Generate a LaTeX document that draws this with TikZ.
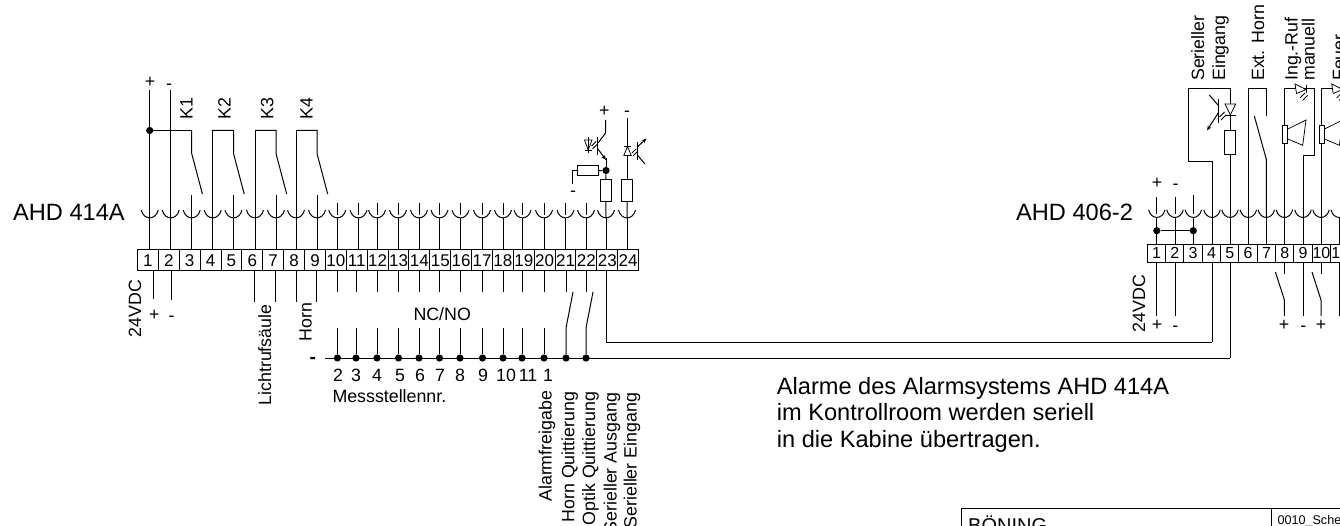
\documentclass[tikz,border=0pt]{standalone}
\usepackage{fontspec}
\setmainfont{Liberation Sans}
\usetikzlibrary{arrows.meta,calc}
\tikzset{
  w/.style={line width=1pt,black},
  thin wire/.style={line width=0.75pt,black},
  cell/.style={draw,line width=1pt,rectangle,inner sep=0pt,minimum width=20.88pt,minimum height=21pt,font=\fontsize{17pt}{17pt}\selectfont},
  rcell/.style={draw,line width=1pt,rectangle,inner sep=0pt,minimum width=18.33pt,minimum height=18.7pt,font=\fontsize{16pt}{16pt}\selectfont},
  lab/.style={inner sep=0pt,anchor=base west,font=\fontsize{17.8pt}{17.8pt}\selectfont},
  vlab/.style={inner sep=0pt,anchor=base west,rotate=90,font=\fontsize{17.8pt}{17.8pt}\selectfont},
  vlabe/.style={inner sep=0pt,anchor=base east,rotate=90,font=\fontsize{17.8pt}{17.8pt}\selectfont},
  big/.style={inner sep=0pt,anchor=base west,font=\fontsize{23.6pt}{23.6pt}\selectfont},
  sign/.style={inner sep=0pt,anchor=center,font=\fontsize{17.8pt}{17.8pt}\selectfont},
  minus/.style={sign,yshift=-2.5pt},
  dot/.style={circle,fill=black,inner sep=0pt,minimum size=7.2pt},
  res/.style={draw,line width=1pt,rectangle,inner sep=0pt,fill=white},
  cup/.pic={\draw[w] (-8.5,0) .. controls (-6,10.5) and (6,10.5) .. (8.5,0);},
  tip/.style={-{Stealth[length=5pt,width=4pt]}}
}
\begin{document}
\begin{tikzpicture}[x=1pt,y=-1pt]
\useasboundingbox (0,0) rectangle (1340,526);
\clip (0,0) rectangle (1340,526);
% ---------- AHD 414A terminal strip
\foreach \x [count=\i] in {149.7,170.7,191.7,212.7,233.5,255,276,296,317,337.3,358.5,377,398,419,439.5,460.5,482,503,522.5,544,565.5,586,606,627}{
  \node[cell] (L\i) at ({137.5+20.88*(\i-0.5)},260.5) {\i};
  \coordinate (Lc\i) at (\x,218);
  \pic at (\x,210) {cup};
  \draw[w] (Lc\i) -- (Lc\i |- L\i.north);
}
% wires above cups, free ends
\foreach \i/\t in {1/90,2/90,4/130.5,6/130.5,8/130.5}{
  \coordinate (Lt\i) at (Lc\i |- 0,\t);
  \draw[w] (Lt\i) -- (Lc\i);
}
\foreach \i in {3,5,7,9}{\draw[w] (Lc\i |- 0,195) -- ($(Lc\i)+(0,-1)$);}
\foreach \i in {10,...,22}{\draw[w] (Lc\i |- 0,202.7) -- ($(Lc\i)+(0,-3)$);}
% relay contacts
\node[dot] (feed) at (Lc1 |- 0,130.5) {};
\foreach \a/\b/\n in {3/3/1,4/5/2,6/7/3,8/9/4}{
  \coordinate (s\n) at (Lc\b |- 0,153.5);
  \coordinate (e\n) at ($(s\n)+(10.7,40.5)$);
  \draw[w] (Lc\a |- 0,130.5) -- (Lc\b |- 0,130.5) -- (s\n) -- (e\n);
}
\draw[w] (feed.center) -- (Lc3 |- feed);
% labels top left
\node[sign] (pl) at (150,82.5) {+};
\node[minus] (ml) at (169,84) {-};
\node[vlab] (k1) at (192.7,119.3) {K1};
\node[vlab] (k2) at (230.7,119.3) {K2};
\node[vlab] (k3) at (273.3,119.3) {K3};
\node[vlab] (k4) at (312.7,119.3) {K4};
\node[big] (ahdl) at (13,221) {AHD 414A};
% below strip left
\coordinate (b1) at (153.4,299.5);\coordinate (b2) at (171,300);
\draw[w] (b1 |- L1.south) -- (b1);
\draw[w] (b2 |- L2.south) -- (b2);
\node[sign] (pb1) at (154.3,315) {+};
\node[minus] (mb2) at (171.5,316) {-};
\node[vlab] (v24l) at (141,337.3) {24VDC};
\foreach \i/\x in {6/254,7/275,8/296,9/316.5}{
  \draw[w] (\x,271) -- (\x,302.5);
}
\node[vlab] (licht) at (271,405.7) {Lichtrufsäule};
\node[vlab] (hornl) at (311.7,341.7) {Horn};
\node[lab] (ncno) at (413.3,320) {NC/NO};
% bus & contacts
\coordinate (busL) at (325,358);
\coordinate (busR) at (1230,358);
\coordinate (serL) at (606,342);
\coordinate (serR) at (1212,342);
\draw[w] (busL) -- (busR);
\foreach \i/\x in {10/337.4,11/356,12/377,13/398.5,14/419,15/439.5,16/460,17/482.5,18/503,19/522,20/544}{
  \draw[w] (\x,271) -- (\x,292);
  \node[dot] (d\i) at (\x,358) {};
  \draw[w] (\x,328) -- (d\i);
}
\foreach \i/\x in {21/566,22/586}{
  \draw[w] (\x,271) -- (\x,292);
  \node[dot] (d\i) at (\x,358) {};
  \draw[w] (d\i) -- (\x,328) -- ($(\x,292)+(7,0)$);
}
\node[inner sep=0pt,yshift=-2.5pt,font=\fontsize{19pt}{19pt}\bfseries\selectfont] (busm) at (312.7,358) {-};
\foreach \t/\x in {2/338,3/356,4/377,5/400,6/420,7/440,8/460,9/483,10/506,11/528,1/548}{
  \node[inner sep=0pt,anchor=base,font=\fontsize{17.8pt}{17.8pt}\selectfont] (n\t) at (\x,381.7) {\t};
}
\node[lab] (mess) at (332.3,402.7) {Messstellennr.};
\node[vlabe] (alf) at (551.7,390.7) {Alarmfreigabe};
\node[vlabe] (hq) at (574.3,391.7) {Horn Quittierung};
\node[vlabe] (oq) at (595,391.7) {Optik Quittierung};
\node[vlabe] (sa) at (616.7,392.7) {Serieller Ausgang};
\node[vlabe] (se) at (636.7,392.7) {Serieller Eingang};
% serial lines
\draw[w] (serL |- L23.south) -- (serL) -- (serR);
% optocoupler out (terminal 23)
\node[dot] (jn) at (606,170.5) {};
\node[res,minimum width=10.6pt,minimum height=21.7pt] (r23) at (605.8,190.2) {};
\node[res,minimum width=21.3pt,minimum height=10.7pt] (rh) at (587.7,170.6) {};
\node[res,minimum width=11pt,minimum height=21.7pt] (r24) at (627.2,190.2) {};
\draw[w] (jn) -- (r23);
\draw[w] (r23) -- (Lc23);
\draw[w] (rh) -- (jn);
\coordinate (mend) at (572.6,184);
\draw[w] (rh.west) -- (mend |- rh.west) -- (mend);
\node[minus] (mn) at (573,191) {-};
\node[sign] (pn) at (604.3,111.5) {+};
\node[minus] (mo) at (627,111) {-};
\coordinate (ptop) at (605.6,120);
\draw[w] (ptop) -- (605.6,133) -- (598,143);
\draw[w] (597.7,136.7) -- (597.7,155);
\draw[w,tip] (598,149) -- (606,160);
\draw[w] (606,158) -- (jn);
% LED left
\draw[thin wire] (584.5,140) -- (592,140) -- (588.2,150) -- cycle;
\draw[thin wire] (584.5,150.5) -- (592,150.5) (588.2,137) -- (588.2,153);
\draw[thin wire] (591.5,146) -- (596,141.5) (592.5,149) -- (597,144.5);
% right sensor
\coordinate (mtop) at (627.2,118.3);
\draw[w] (mtop) -- (r24);
\draw[w] (r24) -- (Lc24);
\draw[thin wire,fill=white] (623.8,155.5) -- (631.3,155.5) -- (627.5,146.5) -- cycle;
\draw[thin wire] (623.8,146.3) -- (631.3,146.3);
\draw[thin wire] (632,153) -- (636,149) (633,156) -- (637,152);
\draw[w] (637.3,141.7) -- (637.3,160);
\draw[w,tip] (637.3,147) -- (646.5,138.5);
\draw[w] (637.3,155) -- (645,164);
% ---------- AHD 406-2 strip
\foreach \x [count=\i] in {1156.8,1175,1193.3,1212,1230,1248.3,1266.3,1284.4,1303,1321,1339.2}{
  \node[rcell] (R\i) at ({1147.3+18.33*(\i-0.5)},253.4) {\i};
  \coordinate (Rc\i) at (\x,217);
  \pic[scale=0.97] at (\x,209.8) {cup};
  \draw[w] (Rc\i) -- (Rc\i |- R\i.north);
}
\foreach \i in {1,2}{\draw[w] (Rc\i |- 0,197) -- ($(Rc\i)+(0,-3)$);}
\draw[w] (Rc3 |- 0,195) -- ($(Rc3)+(0,-3)$);
\node[sign] (pr) at (1157,183.5) {+};
\node[minus] (mr) at (1175.5,184) {-};
\node[big] (ahdr) at (1016,220.7) {AHD 406-2};
\node[dot] (j1) at (Rc1 |- 0,230.7) {};
\node[dot] (j3) at (Rc3 |- 0,230.7) {};
\draw[w] (j1) -- (j3);
% below right strip
\foreach \i in {1,2,9,11}{\draw[w] (Rc\i |- R\i.south) -- (Rc\i |- 0,316);}
\draw[w] (Rc4 |- R4.south) -- (serR);
\draw[w] (Rc5 |- R5.south) -- (busR);
\foreach \i in {8,10}{
  \draw[w] (Rc\i |- R\i.south) -- (Rc\i |- 0,274);
  \draw[w] (Rc\i |- 0,316) -- (Rc\i |- 0,300) -- ($(Rc\i |- 0,272)+(-9,0)$);
}
\node[vlab] (v24r) at (1145,332.3) {24VDC};
\node[sign] (p1r) at (1157,325.5) {+};
\node[minus] (m2r) at (1175.3,326) {-};
\node[sign] (p8r) at (1284,325.5) {+};
\node[minus] (m9r) at (1303.3,326) {-};
\node[sign] (p10r) at (1321,325.5) {+};
% serial input loop
\draw[w] (Rc4) -- (Rc4 |- 0,161.3) -- (1188.3,161.3) -- (1188.3,88.7) -- (Rc5 |- 0,88.7) -- (Rc5);
\node[res,minimum width=11pt,minimum height=24.4pt] (rs) at (1230.2,142.5) {};
\draw[thin wire,fill=white] (1225,104) -- (1235.7,104) -- (1230.3,115) -- cycle;
\draw[thin wire] (1224.5,115.5) -- (1236,115.5);
\draw[w] (1218.8,99) -- (1218.8,123);
\draw[w] (1209.3,95) -- (1218.8,106);
\draw[w,tip] (1218.8,112) -- (1207,130.5);
\draw[thin wire] (1219.5,117) -- (1224.5,112) (1221,120) -- (1226,115);
% ext horn
\draw[w] (Rc6) -- (Rc6 |- 0,88.7) -- (Rc7 |- 0,88.7) -- (Rc7 |- 0,116);
\draw[w] (Rc7) -- (Rc7 |- 0,159.3) -- (1254.3,116);
% Ing.-Ruf & Feuer
\draw[w] (Rc8) -- (Rc8 |- 0,88.7) -- (1314.7,88.7) -- (1314.7,155.3) -- (Rc9 |- 0,155.3) -- (Rc9);
\draw[w] (Rc10) -- (Rc10 |- 0,88.7) -- (1345,88.7);
\foreach \dx in {0,36.7}{
  \begin{scope}[xshift=\dx pt]
    \draw[thin wire,fill=white] (1295,84) -- (1306,89.5) -- (1296.5,93.5) -- cycle;
    \draw[thin wire] (1306,85) -- (1306,93.5);
    \draw[thin wire] (1300,98) -- (1305,93) (1302.5,100.5) -- (1307.5,95.5);
    \draw[thin wire,fill=white] (1282.4,125.7) rectangle (1287.8,143.3);
    \draw[thin wire] (1287.8,129) -- (1306,120) -- (1302.7,145.3) -- (1287.8,139);
  \end{scope}
}
% top texts
\node[vlab] (t1) at (1204,81) {Serieller};
\node[vlab] (t2) at (1225,81) {Eingang};
\node[vlab] (t3) at (1264,81) {Ext. Horn};
\node[vlab] (t4) at (1297.7,81) {Ing.-Ruf};
\node[vlab] (t5) at (1314.5,81) {manuell};
\node[vlab] (t6) at (1345,81) {Feuer};
% note
\node[big] (a1) at (776.7,394) {Alarme des Alarmsystems AHD 414A};
\node[big] (a2) at (776.7,420.7) {im Kontrollroom werden seriell};
\node[big] (a3) at (776.7,447.3) {in die Kabine übertragen.};
% title block
\draw[w] (961.7,530) -- (961.7,508.7) -- (1345,508.7);
\draw[w] (1271.7,508.7) -- (1271.7,530);
\node[inner sep=0pt,anchor=base west,font=\fontsize{20pt}{20pt}\selectfont] (boe) at (968,532.5) {BÖNING};
\node[inner sep=0pt,anchor=base west,font=\fontsize{12.6pt}{12.6pt}\selectfont] (doc) at (1277.3,524.4) {0010\_Sche};
\end{tikzpicture}
\end{document}
